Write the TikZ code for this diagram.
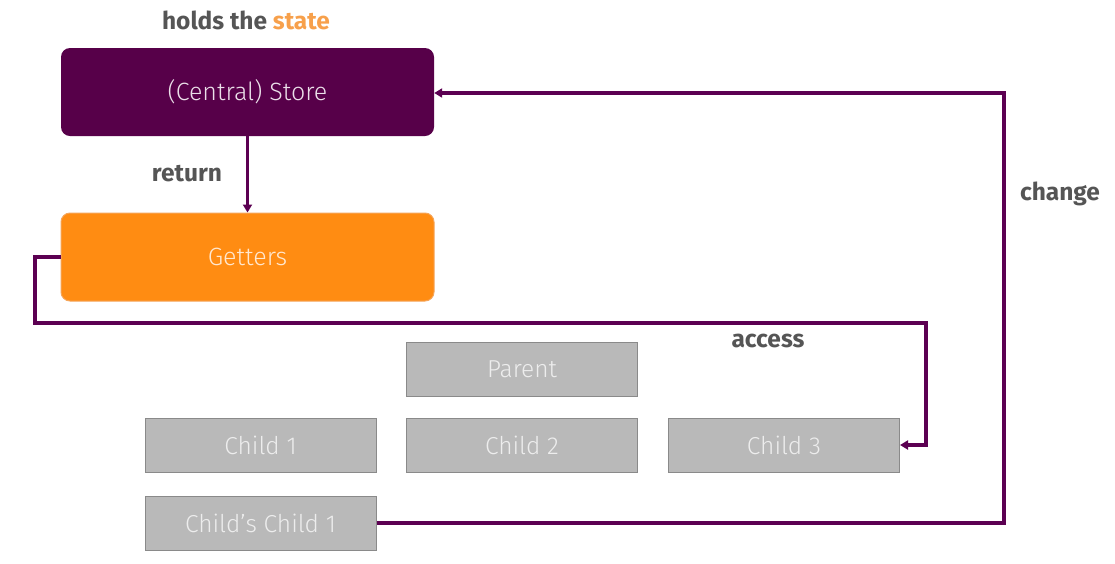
\documentclass[tikz,border=0pt]{standalone}
\usepackage{fontspec}
\setmainfont{Fira Sans}
\newfontfamily\lightfont{Fira Sans Light}
\usetikzlibrary{arrows.meta}
\definecolor{storec}{HTML}{570049}
\definecolor{getc}{HTML}{FF8C12}
\definecolor{getb}{HTML}{F5A55A}
\definecolor{grayf}{HTML}{B9B9B9}
\definecolor{grayb}{HTML}{8A8A8A}
\definecolor{graytext}{HTML}{EDEDED}
\definecolor{labelc}{HTML}{555555}
\definecolor{statec}{HTML}{F7A04B}
\definecolor{linec}{HTML}{5C0052}
\begin{document}
\begin{tikzpicture}[x=1pt,y=-1pt,
  bigbox/.style={rounded corners=9pt,minimum width=373pt,minimum height=88pt,inner sep=0pt,
     font=\lightfont\fontsize{25}{28}\selectfont},
  graybox/.style={draw=grayb,line width=1pt,fill=grayf,minimum width=231pt,minimum height=54pt,inner sep=0pt,
     text=graytext,font=\lightfont\fontsize{24.5}{28}\selectfont},
  lbl/.style={text=labelc,font=\bfseries\fontsize{24.5}{28}\selectfont,inner sep=0pt},
  conn/.style={draw=linec,line width=3.2pt,-{Triangle[length=8pt,width=9pt]}}
]
\useasboundingbox (0,0) rectangle (1115,563);
\node[bigbox,fill=storec,text=white!88!storec] (store) at (247.5,92) {(Central) Store};
\node[bigbox,fill=getc,draw=getb,line width=1pt,text=white!80!getc] (getters) at (247.5,257) {Getters};
\node[graybox] (parent) at (522,369.5) {Parent};
\node[graybox] (c1) at (260.5,445) {Child 1};
\node[graybox] (c2) at (522,445) {Child 2};
\node[graybox] (c3) at (784,445) {Child 3};
\node[graybox] (cc1) at (260.5,523) {Child’s Child 1};
\node[lbl] (holds) at (246,20) {holds the \textcolor{statec}{state}};
\node[lbl] (ret) at (187,174) {return};
\node[lbl] (acc) at (768,341) {access};
\node[lbl] (chg) at (1060,194) {change};
\coordinate (a1) at (35,323);
\coordinate (a2) at (926,323);
\coordinate (b1) at (1004,93);
\draw[conn] (store.south) -- (getters.north);
\draw[conn] (getters.west) -| (a1) -- (a2) |- (c3.east);
\draw[conn] (cc1.east) -| (b1) -- (store.east |- b1);
\end{tikzpicture}
\end{document}
